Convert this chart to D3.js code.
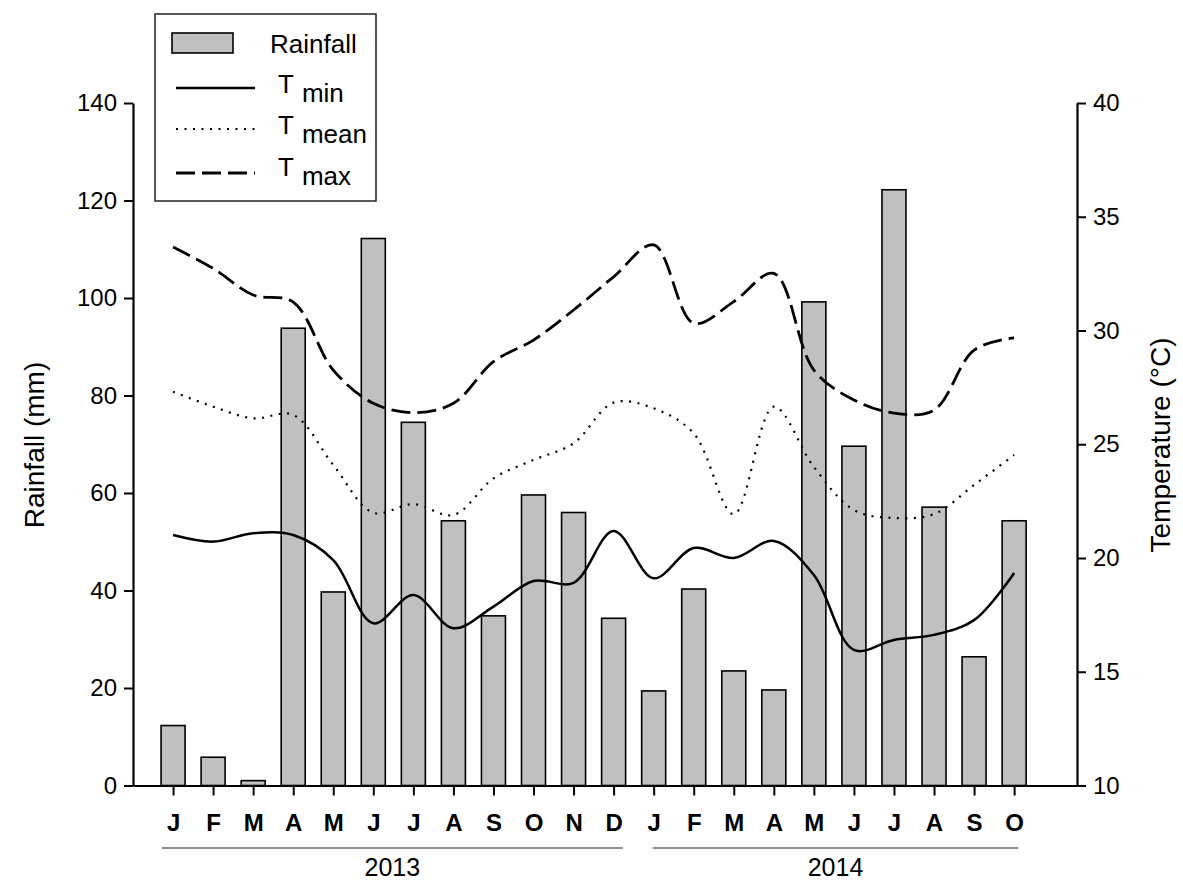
<!DOCTYPE html>
<html><head><meta charset="utf-8">
<script src="https://cdn.jsdelivr.net/npm/d3@7"></script>
<style>
html,body{margin:0;padding:0;background:#fff;}
text{font-family:"Liberation Sans",Arial,sans-serif;fill:#000;}
</style></head>
<body>
<svg id="chart" width="1183" height="882"></svg>
<script>
const months = ["J","F","M","A","M","J","J","A","S","O","N","D","J","F","M","A","M","J","J","A","S","O"];
const rainfall = [12.3,5.8,1.0,93.8,39.7,112.2,74.5,54.3,34.8,59.6,56.0,34.3,19.4,40.3,23.5,19.6,99.2,69.6,122.2,57.1,26.4,54.3];
const tMin = [21.01,20.72,21.09,21.01,19.91,17.13,18.37,16.91,17.86,18.99,18.91,21.19,19.11,20.44,20.0,20.75,19.25,15.96,16.4,16.62,17.27,19.34];
const tMean = [27.31,26.65,26.14,26.29,24.09,21.99,22.37,21.89,23.5,24.31,25.04,26.83,26.58,25.48,21.93,26.65,24.0,22.11,21.76,21.93,23.21,24.53];
const tMax = [33.67,32.73,31.56,31.25,28.26,26.8,26.39,26.8,28.63,29.58,30.9,32.36,33.76,30.32,31.27,32.51,28.26,26.95,26.37,26.5,29.14,29.68];
const rainTicks = [0,20,40,60,80,100,120,140];
const tempTicks = [10,15,20,25,30,35,40];
const years = ["2013","2014"];
const yearSpans = [[0.72,12.23],[12.98,22.1]];

const svg = d3.select("#chart");
const x = d3.scaleLinear().domain([0,23.57]).range([133,1077]);
const yL = d3.scaleLinear().domain([0,140]).range([785.5,103]);
const yR = d3.scaleLinear().domain([10,40]).range([785.5,103]);
const idx = d3.range(1, months.length+1);

// bars
svg.append("g").selectAll("rect").data(rainfall).join("rect")
  .attr("x",(d,i)=>x(i+1)-12).attr("width",24)
  .attr("y",d=>yL(d)).attr("height",d=>yL(0)-yL(d))
  .attr("fill","#c0c0c0").attr("stroke","#000").attr("stroke-width",1.6);

// lines
const line = d3.line().x((d,i)=>x(i+1)).y(d=>yR(d)).curve(d3.curveCatmullRom.alpha(0.5));
svg.append("path").datum(tMin).attr("d",line).attr("fill","none").attr("stroke","#000").attr("stroke-width",2.5);
svg.append("path").datum(tMean).attr("d",line).attr("fill","none").attr("stroke","#000").attr("stroke-width",2.2).attr("stroke-dasharray","2,6.5");
svg.append("path").datum(tMax).attr("d",line).attr("fill","none").attr("stroke","#000").attr("stroke-width",2.8).attr("stroke-dasharray","19,7");

// axes
function styleAxis(g, fs){
  g.select(".domain").attr("stroke","#000").attr("stroke-width",2.2);
  g.selectAll(".tick line").attr("stroke","#000").attr("stroke-width",2);
  g.selectAll(".tick text").attr("font-size",fs).attr("font-family","Liberation Sans, Arial, sans-serif");
}
const gL = svg.append("g").attr("transform","translate(133,0)")
  .call(d3.axisLeft(yL).tickValues(rainTicks).tickSize(9).tickSizeOuter(0).tickPadding(7));
styleAxis(gL,24);
const gR = svg.append("g").attr("transform","translate(1077,0)")
  .call(d3.axisRight(yR).tickValues(tempTicks).tickSize(9).tickSizeOuter(0).tickPadding(7));
styleAxis(gR,24);
const gB = svg.append("g").attr("transform","translate(0,785.5)")
  .call(d3.axisBottom(x).tickValues(idx).tickFormat(d=>months[d-1]).tickSize(10).tickSizeOuter(0).tickPadding(18));
styleAxis(gB,24);
gB.selectAll(".tick text").attr("font-weight","bold");

// year underline + labels
svg.append("g").selectAll("line").data(yearSpans).join("line")
  .attr("x1",d=>x(d[0])).attr("x2",d=>x(d[1])).attr("y1",848).attr("y2",848)
  .attr("stroke","#222").attr("stroke-width",1.2);
svg.append("g").selectAll("text").data(years).join("text")
  .attr("x",(d,i)=>x((yearSpans[i][0]+yearSpans[i][1])/2)).attr("y",876)
  .attr("text-anchor","middle").attr("font-size",25).text(d=>d);

// axis titles
svg.append("text").attr("transform","translate(44,445) rotate(-90)")
  .attr("text-anchor","middle").attr("font-size",28).text("Rainfall (mm)");
svg.append("text").attr("transform","translate(1170,445) rotate(-90)")
  .attr("text-anchor","middle").attr("font-size",28).text("Temperature (°C)");

// legend
const lg = svg.append("g");
lg.append("rect").attr("x",155).attr("y",14).attr("width",221).attr("height",187)
  .attr("fill","#fff").attr("stroke","#222").attr("stroke-width",1.5);
lg.append("rect").attr("x",172).attr("y",33).attr("width",61).attr("height",20)
  .attr("fill","#c0c0c0").attr("stroke","#000").attr("stroke-width",1.6);
lg.append("text").attr("x",270).attr("y",53).attr("font-size",26).text("Rainfall");
const legItems = [
  {y:88, name:"min", dash:null, w:2.5, base:93},
  {y:129, name:"mean", dash:"2,6.5", w:2.2, base:134},
  {y:173, name:"max", dash:"19,7", w:2.8, base:176}
];
legItems.forEach(it=>{
  const l = lg.append("line").attr("x1",176).attr("x2",255).attr("y1",it.y).attr("y2",it.y)
    .attr("stroke","#000").attr("stroke-width",it.w);
  if(it.dash) l.attr("stroke-dasharray",it.dash);
  const t = lg.append("text").attr("x",278).attr("y",it.base).attr("font-size",26);
  t.append("tspan").text("T");
  t.append("tspan").attr("dx",8).attr("dy",9).text(it.name);
});
</script>
</body></html>
